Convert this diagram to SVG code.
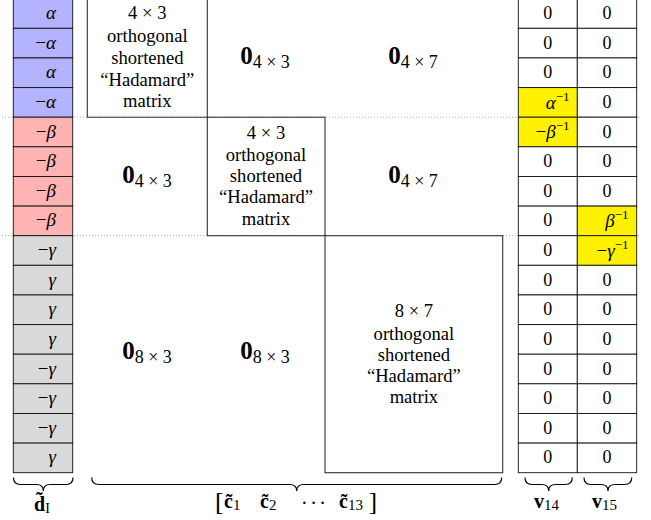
<svg xmlns="http://www.w3.org/2000/svg" width="651" height="520" viewBox="0 0 651 520">
<style>
text{font-family:"Liberation Serif","Times New Roman",serif;fill:#000}
.cell{stroke:#111;stroke-width:0.9}
.blue{fill:#b3b3ff}.red{fill:#ffb3b3}.gray{fill:#d9d9d9}.wht{fill:#fff}.yel{fill:#fff200}
.box{fill:none;stroke:#333;stroke-width:1.1}
.dot{stroke:#aaa;stroke-width:1;stroke-dasharray:1 2;fill:none}
.m{font-style:italic;font-size:19px}
.n{font-size:18px}
.bt{font-size:18.6px;text-anchor:middle}
.z{text-anchor:middle}
.brace{fill:none;stroke:#000;stroke-width:1.2}
.sup{font-size:13px;font-style:normal}
</style>

<g id="guides">
<line class="dot" x1="2" y1="117.2" x2="640" y2="117.2"/>
<line class="dot" x1="2" y1="235.7" x2="640" y2="235.7"/>
</g>

<g id="d-column">
<rect class="cell blue" x="13.3" y="-1.3" width="59.4" height="29.6"/>
<rect class="cell blue" x="13.3" y="28.3" width="59.4" height="29.65"/>
<rect class="cell blue" x="13.3" y="57.95" width="59.4" height="29.65"/>
<rect class="cell blue" x="13.3" y="87.6" width="59.4" height="29.6"/>
<rect class="cell red" x="13.3" y="117.2" width="59.4" height="29.6"/>
<rect class="cell red" x="13.3" y="146.8" width="59.4" height="29.65"/>
<rect class="cell red" x="13.3" y="176.45" width="59.4" height="29.65"/>
<rect class="cell red" x="13.3" y="206.1" width="59.4" height="29.6"/>
<rect class="cell gray" x="13.3" y="235.7" width="59.4" height="29.6"/>
<rect class="cell gray" x="13.3" y="265.3" width="59.4" height="29.65"/>
<rect class="cell gray" x="13.3" y="294.95" width="59.4" height="29.65"/>
<rect class="cell gray" x="13.3" y="324.6" width="59.4" height="29.6"/>
<rect class="cell gray" x="13.3" y="354.2" width="59.4" height="29.6"/>
<rect class="cell gray" x="13.3" y="383.8" width="59.4" height="29.65"/>
<rect class="cell gray" x="13.3" y="413.45" width="59.4" height="29.65"/>
<rect class="cell gray" x="13.3" y="443.1" width="59.4" height="29.6"/>
<g text-anchor="end">
<text class="m" x="56" y="19">α</text>
<text class="m" x="56" y="48.6"><tspan font-style="normal">−</tspan>α</text>
<text class="m" x="56" y="78.3">α</text>
<text class="m" x="56" y="107.9"><tspan font-style="normal">−</tspan>α</text>
<text class="m" x="56" y="137.5"><tspan font-style="normal">−</tspan>β</text>
<text class="m" x="56" y="167.1"><tspan font-style="normal">−</tspan>β</text>
<text class="m" x="56" y="196.8"><tspan font-style="normal">−</tspan>β</text>
<text class="m" x="56" y="226.4"><tspan font-style="normal">−</tspan>β</text>
<text class="m" x="56" y="256"><tspan font-style="normal">−</tspan>γ</text>
<text class="m" x="56" y="285.6">γ</text>
<text class="m" x="56" y="315.3">γ</text>
<text class="m" x="56" y="344.9">γ</text>
<text class="m" x="56" y="374.5"><tspan font-style="normal">−</tspan>γ</text>
<text class="m" x="56" y="404.1"><tspan font-style="normal">−</tspan>γ</text>
<text class="m" x="56" y="433.8"><tspan font-style="normal">−</tspan>γ</text>
<text class="m" x="56" y="463.4">γ</text>
</g>
</g>

<g id="hadamard-4x3-a">
<polyline class="box" points="87.3,-2 87.3,117.2 207.3,117.2 207.3,-2"/>
<text class="bt" x="147.3" y="19">4 × 3</text>
<text class="bt" x="147.3" y="41.5">orthogonal</text>
<text class="bt" x="147.3" y="64">shortened</text>
<text class="bt" x="147.3" y="86">“Hadamard”</text>
<text class="bt" x="147.3" y="106.7">matrix</text>
</g>

<g id="hadamard-4x3-b">
<rect class="box" x="207.3" y="117.2" width="117.7" height="118.5"/>
<text class="bt" x="266" y="138.5">4 × 3</text>
<text class="bt" x="266" y="160.5">orthogonal</text>
<text class="bt" x="266" y="182">shortened</text>
<text class="bt" x="266" y="203">“Hadamard”</text>
<text class="bt" x="266" y="224.5">matrix</text>
</g>

<g id="hadamard-8x7">
<rect class="box" x="325" y="235.7" width="177.7" height="237"/>
<text class="bt" x="413.9" y="317.3">8 × 7</text>
<text class="bt" x="413.9" y="340">orthogonal</text>
<text class="bt" x="413.9" y="360.7">shortened</text>
<text class="bt" x="413.9" y="381.7">“Hadamard”</text>
<text class="bt" x="413.9" y="403.3">matrix</text>
</g>

<g id="zero-blocks">
<text class="z" x="265" y="64"><tspan font-weight="bold" font-size="25">0</tspan><tspan font-size="18" dy="4.3">4 × 3</tspan></text>
<text class="z" x="413" y="64"><tspan font-weight="bold" font-size="25">0</tspan><tspan font-size="18" dy="4.3">4 × 7</tspan></text>
<text class="z" x="147" y="183"><tspan font-weight="bold" font-size="25">0</tspan><tspan font-size="18" dy="4.3">4 × 3</tspan></text>
<text class="z" x="413" y="183"><tspan font-weight="bold" font-size="25">0</tspan><tspan font-size="18" dy="4.3">4 × 7</tspan></text>
<text class="z" x="147" y="359"><tspan font-weight="bold" font-size="25">0</tspan><tspan font-size="18" dy="4.3">8 × 3</tspan></text>
<text class="z" x="265" y="359"><tspan font-weight="bold" font-size="25">0</tspan><tspan font-size="18" dy="4.3">8 × 3</tspan></text>
</g>

<g id="v14-column">
<rect class="cell wht" x="518.3" y="-1.3" width="59" height="29.6"/>
<rect class="cell wht" x="518.3" y="28.3" width="59" height="29.65"/>
<rect class="cell wht" x="518.3" y="57.95" width="59" height="29.65"/>
<rect class="cell yel" x="518.3" y="87.6" width="59" height="29.6"/>
<rect class="cell yel" x="518.3" y="117.2" width="59" height="29.6"/>
<rect class="cell wht" x="518.3" y="146.8" width="59" height="29.65"/>
<rect class="cell wht" x="518.3" y="176.45" width="59" height="29.65"/>
<rect class="cell wht" x="518.3" y="206.1" width="59" height="29.6"/>
<rect class="cell wht" x="518.3" y="235.7" width="59" height="29.6"/>
<rect class="cell wht" x="518.3" y="265.3" width="59" height="29.65"/>
<rect class="cell wht" x="518.3" y="294.95" width="59" height="29.65"/>
<rect class="cell wht" x="518.3" y="324.6" width="59" height="29.6"/>
<rect class="cell wht" x="518.3" y="354.2" width="59" height="29.6"/>
<rect class="cell wht" x="518.3" y="383.8" width="59" height="29.65"/>
<rect class="cell wht" x="518.3" y="413.45" width="59" height="29.65"/>
<rect class="cell wht" x="518.3" y="443.1" width="59" height="29.6"/>
<g text-anchor="middle">
<text class="n" x="547.8" y="19">0</text>
<text class="n" x="547.8" y="48.6">0</text>
<text class="n" x="547.8" y="78.3">0</text>
<text class="n" x="547.8" y="167.1">0</text>
<text class="n" x="547.8" y="196.8">0</text>
<text class="n" x="547.8" y="226.4">0</text>
<text class="n" x="547.8" y="256">0</text>
<text class="n" x="547.8" y="285.6">0</text>
<text class="n" x="547.8" y="315.3">0</text>
<text class="n" x="547.8" y="344.9">0</text>
<text class="n" x="547.8" y="374.5">0</text>
<text class="n" x="547.8" y="404.1">0</text>
<text class="n" x="547.8" y="433.8">0</text>
<text class="n" x="547.8" y="463.4">0</text>
</g>
<text class="m" x="569.5" y="108.5" text-anchor="end">α<tspan class="sup" dy="-8">−1</tspan></text>
<text class="m" x="569.5" y="138" text-anchor="end"><tspan font-style="normal">−</tspan>β<tspan class="sup" dy="-8">−1</tspan></text>
</g>

<g id="v15-column">
<rect class="cell wht" x="577.3" y="-1.3" width="59.4" height="29.6"/>
<rect class="cell wht" x="577.3" y="28.3" width="59.4" height="29.65"/>
<rect class="cell wht" x="577.3" y="57.95" width="59.4" height="29.65"/>
<rect class="cell wht" x="577.3" y="87.6" width="59.4" height="29.6"/>
<rect class="cell wht" x="577.3" y="117.2" width="59.4" height="29.6"/>
<rect class="cell wht" x="577.3" y="146.8" width="59.4" height="29.65"/>
<rect class="cell wht" x="577.3" y="176.45" width="59.4" height="29.65"/>
<rect class="cell yel" x="577.3" y="206.1" width="59.4" height="29.6"/>
<rect class="cell yel" x="577.3" y="235.7" width="59.4" height="29.6"/>
<rect class="cell wht" x="577.3" y="265.3" width="59.4" height="29.65"/>
<rect class="cell wht" x="577.3" y="294.95" width="59.4" height="29.65"/>
<rect class="cell wht" x="577.3" y="324.6" width="59.4" height="29.6"/>
<rect class="cell wht" x="577.3" y="354.2" width="59.4" height="29.6"/>
<rect class="cell wht" x="577.3" y="383.8" width="59.4" height="29.65"/>
<rect class="cell wht" x="577.3" y="413.45" width="59.4" height="29.65"/>
<rect class="cell wht" x="577.3" y="443.1" width="59.4" height="29.6"/>
<g text-anchor="middle">
<text class="n" x="607" y="19">0</text>
<text class="n" x="607" y="48.6">0</text>
<text class="n" x="607" y="78.3">0</text>
<text class="n" x="607" y="107.9">0</text>
<text class="n" x="607" y="137.5">0</text>
<text class="n" x="607" y="167.1">0</text>
<text class="n" x="607" y="196.8">0</text>
<text class="n" x="607" y="285.6">0</text>
<text class="n" x="607" y="315.3">0</text>
<text class="n" x="607" y="344.9">0</text>
<text class="n" x="607" y="374.5">0</text>
<text class="n" x="607" y="404.1">0</text>
<text class="n" x="607" y="433.8">0</text>
<text class="n" x="607" y="463.4">0</text>
</g>
<text class="m" x="628.5" y="227" text-anchor="end">β<tspan class="sup" dy="-8">−1</tspan></text>
<text class="m" x="628.5" y="256.5" text-anchor="end"><tspan font-style="normal">−</tspan>γ<tspan class="sup" dy="-8">−1</tspan></text>
</g>

<g id="braces">
<path class="brace" d="M13.5,477.5 Q13.5,484.5 20.5,484.5 L36.5,484.5 Q43.3,484.5 43.3,491 Q43.3,484.5 50.1,484.5 L66,484.5 Q73,484.5 73,477.5"/>
<path class="brace" d="M91.7,477.5 Q91.7,484.5 98.7,484.5 L289.7,484.5 Q296.7,484.5 296.7,491 Q296.7,484.5 303.7,484.5 L494.7,484.5 Q501.7,484.5 501.7,477.5"/>
<path class="brace" d="M525,477.5 Q525,484.5 532,484.5 L541.7,484.5 Q548.7,484.5 548.7,491 Q548.7,484.5 555.7,484.5 L565.3,484.5 Q572.3,484.5 572.3,477.5"/>
<path class="brace" d="M584,477.5 Q584,484.5 591,484.5 L601,484.5 Q608,484.5 608,491 Q608,484.5 615,484.5 L624.7,484.5 Q631.7,484.5 631.7,477.5"/>
</g>

<g id="labels">
<text x="34" y="511" font-size="20"><tspan font-weight="bold">d̃</tspan><tspan font-size="14" dy="2">I</tspan></text>
<text x="215" y="510" font-size="26">[</text>
<text x="224" y="508.3" font-size="20"><tspan font-weight="bold">c̃</tspan><tspan font-size="15" dy="2">1</tspan></text>
<text x="260" y="508.3" font-size="20"><tspan font-weight="bold">c̃</tspan><tspan font-size="15" dy="2">2</tspan></text>
<text x="301" y="510" font-size="20" letter-spacing="2.5">···</text>
<text x="339" y="508.3" font-size="20"><tspan font-weight="bold">c̃</tspan><tspan font-size="15" dy="2">13</tspan></text>
<text x="368.5" y="510" font-size="26">]</text>
<text x="534" y="508.3" font-size="20"><tspan font-weight="bold">v</tspan><tspan font-size="15" dy="2">14</tspan></text>
<text x="592" y="508.3" font-size="20"><tspan font-weight="bold">v</tspan><tspan font-size="15" dy="2">15</tspan></text>
</g>
</svg>
